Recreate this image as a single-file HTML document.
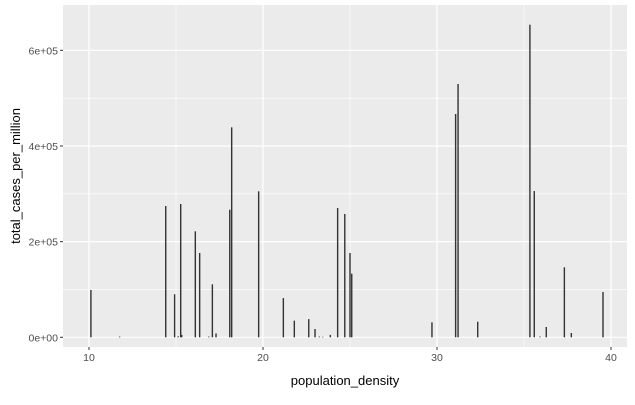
<!DOCTYPE html>
<html><head><meta charset="utf-8"><style>
body{margin:0;background:#fff;}
svg text{font-family:"Liberation Sans",Arial,sans-serif;}
</style></head><body>
<svg id="chart" width="635" height="400" xmlns="http://www.w3.org/2000/svg">
<rect x="0" y="0" width="635" height="400" fill="#fff"/>
<rect x="63" y="5" width="564" height="342" fill="#ebebeb"/>
<g id="grid"></g>
<g id="bars"></g>
<g id="axes"></g>
<text x="345" y="385" font-size="13" text-anchor="middle" fill="#000">population_density</text>
<text transform="translate(20,176) rotate(-90)" font-size="13" text-anchor="middle" fill="#000">total_cases_per_million</text>
</svg>
<script>
const xValues = [10.11,11.76,14.41,14.92,15.13,15.27,15.33,16.11,16.36,16.88,17.09,17.30,18.09,18.20,19.75,21.17,21.80,22.63,22.99,23.24,23.43,23.87,24.29,24.70,25.00,25.10,29.71,31.07,31.21,32.34,35.34,35.59,35.92,36.28,37.32,37.72,39.54];
const yValues = [99000,1500,274500,90000,2000,278700,5000,221600,176200,1500,110800,8000,266800,439000,305200,82000,34800,38000,17300,1500,1000,5000,270300,257800,176200,133000,31300,466900,529600,32600,653600,305800,1500,21600,146400,9000,94700];
const xTicks = [10,20,30,40];
const xTickLabels = ["10","20","30","40"];
const xMinor = [15,25,35];
const yTicks = [0,200000,400000,600000];
const yTickLabels = ["0e+00","2e+05","4e+05","6e+05"];
const yMinor = [100000,300000,500000];

const NS="http://www.w3.org/2000/svg";
const px0=63,px1=627,py0=5,py1=347;
function xs(v){return 89+(v-10)*17.4;}
function ys(v){return 337.3-v/100000*47.83;}
function mk(tag,attrs,parent){const e=document.createElementNS(NS,tag);for(const k in attrs)e.setAttribute(k,attrs[k]);parent.appendChild(e);return e;}
const grid=document.getElementById('grid'),bars=document.getElementById('bars'),axes=document.getElementById('axes');
yMinor.forEach(v=>{const l=mk('line',{x1:px0,x2:px1,y1:ys(v),y2:ys(v),stroke:'#fff','stroke-width':0.6},grid);

});
xMinor.forEach(v=>{const l=mk('line',{x1:xs(v),x2:xs(v),y1:py0,y2:py1,stroke:'#fff','stroke-width':0.6},grid);

});
yTicks.forEach((v,i)=>{const l=mk('line',{x1:px0,x2:px1,y1:ys(v),y2:ys(v),stroke:'#fff','stroke-width':1.2},grid);


mk('line',{x1:px0-3,x2:px0,y1:ys(v),y2:ys(v),stroke:'#333','stroke-width':1},axes);
const t=mk('text',{x:px0-5,y:ys(v)+4,'font-size':10.5,'text-anchor':'end',fill:'#4d4d4d'},axes);
t.textContent=yTickLabels[i];

});
xTicks.forEach((v,i)=>{const l=mk('line',{x1:xs(v),x2:xs(v),y1:py0,y2:py1,stroke:'#fff','stroke-width':1.2},grid);


mk('line',{x1:xs(v),x2:xs(v),y1:py1,y2:py1+3,stroke:'#333','stroke-width':1},axes);
const t=mk('text',{x:xs(v),y:py1+14,'font-size':10.5,'text-anchor':'middle',fill:'#4d4d4d'},axes);
t.textContent=xTickLabels[i];

});
xValues.forEach((x,i)=>{const y=ys(yValues[i]);const b=mk('rect',{x:xs(x)-0.7,y:y,width:1.4,height:Math.max(ys(0)-y,0.5),fill:'#333'},bars);

});
</script>
</body></html>
